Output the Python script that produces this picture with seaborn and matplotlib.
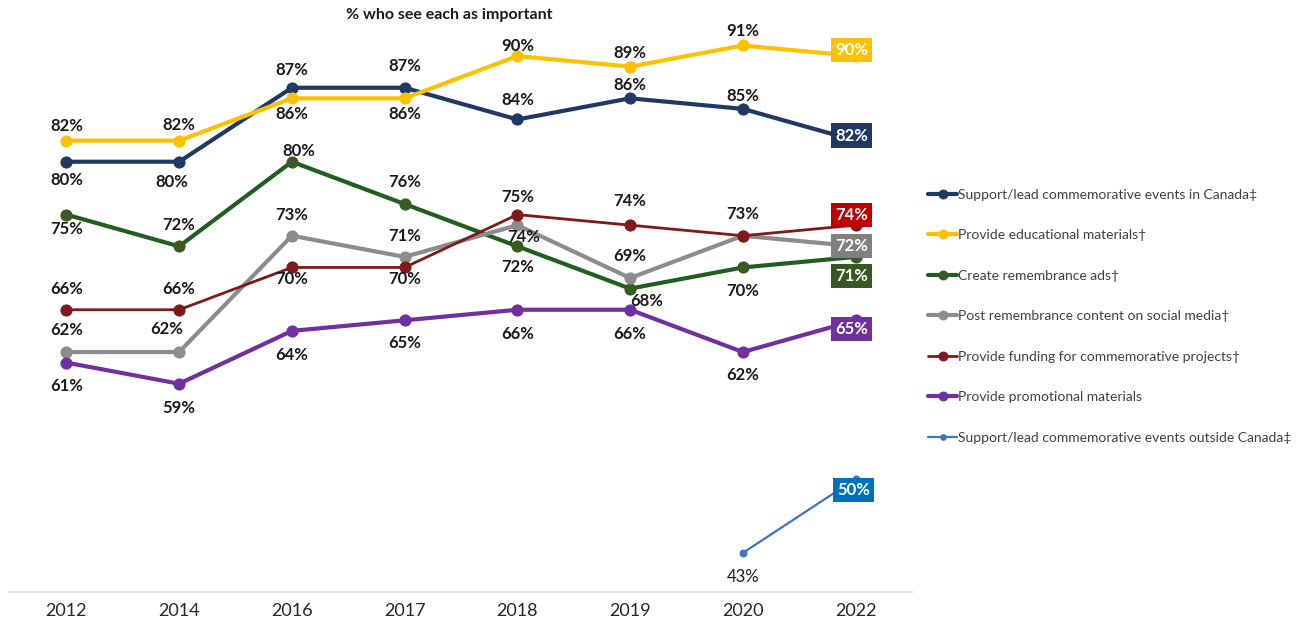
import numpy as np
import pandas as pd
import seaborn as sns
import matplotlib.pyplot as plt

# Data
years = ['2012', '2014', '2016', '2017', '2018', '2019', '2020', '2022']
events_canada = [80, 80, 87, 87, 84, 86, 85, 82]
educational = [82, 82, 86, 86, 90, 89, 91, 90]
ads = [75, 72, 80, 76, 72, 68, 70, 71]
social_media = [62, 62, 73, 71, 74, 69, 73, 72]
funding = [66, 66, 70, 70, 75, 74, 73, 74]
promotional = [61, 59, 64, 65, 66, 66, 62, 65]
events_outside = [np.nan, np.nan, np.nan, np.nan, np.nan, np.nan, 43, 50]

series_names = ['Support/lead commemorative events in Canada‡',
                'Provide educational materials†',
                'Create remembrance ads†',
                'Post remembrance content on social media†',
                'Provide funding for commemorative projects†',
                'Provide promotional materials',
                'Support/lead commemorative events outside Canada‡']
series_values = [events_canada, educational, ads, social_media, funding, promotional, events_outside]

# Styling: line colour, box colour, line width, marker size
line_colors = ['#203864', '#FFC000', '#215E21', '#8C8C8C', '#7F1A1A', '#7030A0', '#4472C4']
marker_colors = ['#203864', '#FFC000', '#3A5A25', '#8C8C8C', '#7F1A1A', '#7030A0', '#4472C4']
box_colors = ['#203864', '#FFC000', '#385723', '#808080', '#C00000', '#7030A0', '#0070C0']
line_widths = [3, 3, 3, 3, 2, 3, 1.6]
marker_sizes = [8, 8, 8, 8, 8, 8, 5]

# label offsets in pixels (dx, dy; dy positive = downward), None = no label
label_offsets = [
    [(0, 18), (-7, 20), (0, -18), (0, -22), (0, -19), (0, -13), (0, -13)],
    [(0, -15), (0, -16), (0, 16), (0, 16), (0, -10), (0, -14), (0, -14)],
    [(0, 14), (0, -21), (7, -11), (0, -22), (0, 21), (17, 12), (0, 24)],
    [(0, -22), (-12, -23), (0, -21), (0, -21), (6, 12), (0, -22), None],
    [(0, -21), (0, -21), (0, 12), (0, 12), (0, -18), (0, -24), (0, -22)],
    [(0, 23), (0, 24), (0, 24), (0, 23), (0, 24), (0, 24), (0, 23)],
    [None, None, None, None, None, None, (0, 24)],
]
box_offsets = [(-4, -5), (-4, -6), (-4, 19), (-4, 0), (-4, -10), (-4, 9), (-2, 11)]

df = pd.DataFrame({'year': years})
for name, vals in zip(series_names, series_values):
    df[name] = vals

# Drawing
sns.set_style('white')
plt.rcParams['font.family'] = ['Lato', 'DejaVu Sans']

fig = plt.figure(figsize=(13.02, 6.24), dpi=100)
ax = fig.add_axes([10 / 1302, 32 / 624, 902 / 1302, 592 / 624])

for i, name in enumerate(series_names):
    sns.lineplot(data=df, x='year', y=name, ax=ax, color=line_colors[i],
                 linewidth=line_widths[i], marker='o', markersize=marker_sizes[i],
                 markerfacecolor=marker_colors[i], markeredgecolor=marker_colors[i],
                 label=name, sort=False)

for i, vals in enumerate(series_values):
    for j, v in enumerate(vals[:-1]):
        off = label_offsets[i][j]
        if off is None or np.isnan(v):
            continue
        weight = 'normal' if i == 6 else 'bold'
        ax.annotate(f'{v:.0f}%', xy=(j, v), xytext=(off[0], -off[1]),
                    textcoords='offset pixels', ha='center', va='center',
                    fontsize=12, fontweight=weight, color='#1a1a1a')
    last = len(vals) - 1
    bx, by = box_offsets[i]
    ax.annotate(f'{vals[last]:.0f}%', xy=(last, vals[last]), xytext=(bx, -by),
                textcoords='offset pixels', ha='center', va='center',
                fontsize=12, fontweight='bold', color='white',
                bbox=dict(boxstyle='square,pad=0.25', fc=box_colors[i], ec='none'))

ax.set_xlim(-0.5, 7.5)
ax.set_ylim(39.3, 95.3)
ax.set_xlabel(None)
ax.set_ylabel(None)
ax.set_yticks([])
for s in ['left', 'right', 'top']:
    ax.spines[s].set_visible(False)
ax.spines['bottom'].set_color('#D9D9D9')
ax.spines['bottom'].set_linewidth(1.2)
ax.set_xticks(range(len(years)))
ax.set_xticklabels(years, fontsize=13, color='#262626')
ax.set_xticks(np.arange(-0.5, 8, 1), minor=True)
ax.tick_params(axis='x', which='major', length=0, pad=8)
ax.tick_params(axis='x', which='minor', length=5, color='#D9D9D9', width=1.2)

leg = ax.legend(loc='center left', bbox_to_anchor=(1.004, 0.466), frameon=False,
                fontsize=10, handlelength=2.1, handletextpad=0.05, labelspacing=2.05,
                markerscale=0.8)
for t in leg.get_texts():
    t.set_color('#404040')

fig.text(449 / 1302, 1 - 15 / 624, '% who see each as important', ha='center', va='center',
         fontsize=11.5, fontweight='bold', color='#1a1a1a')

plt.savefig('out.png', dpi=100)
